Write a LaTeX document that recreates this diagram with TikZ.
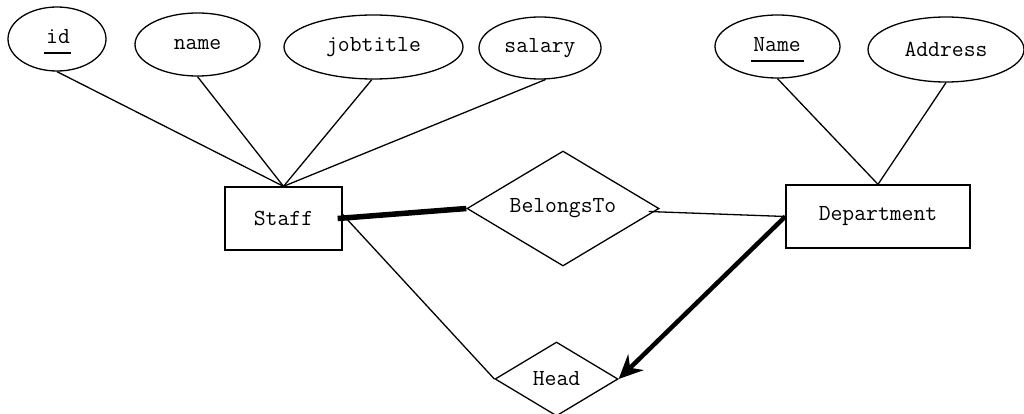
\documentclass[tikz,border=0pt]{standalone}
\usetikzlibrary{shapes.geometric,arrows.meta,calc}
\begin{document}
\begin{tikzpicture}[x=1pt,y=-1pt,
  attr/.style={draw,ellipse,line width=1.3pt,inner sep=0pt},
  entity/.style={draw,rectangle,line width=1.3pt,inner sep=0pt},
  rel/.style={draw,diamond,aspect=1.67,line width=1.3pt,inner sep=0pt},
  conn/.style={line width=1.3pt},
  total/.style={line width=5.5pt},
  every node/.style={font=\ttfamily\fontsize{23}{26}\selectfont}]
\useasboundingbox (0,0) rectangle (1024,414);
% attributes
\node[attr,minimum width=98pt,minimum height=64pt] (id) at (57,39) {};
\node at (58,37) (idt) {id};
\node[attr,minimum width=125pt,minimum height=63pt] (name) at (197.5,44.5) {name};
\node[attr,minimum width=179pt,minimum height=64pt] (job) at (373.5,47) {jobtitle};
\node[attr,minimum width=122pt,minimum height=62pt] (sal) at (540,48) {salary};
\node[attr,minimum width=125pt,minimum height=63pt] (dname) at (777.5,46.5) {};
\node at (777,45) (dnamet) {Name};
\node[attr,minimum width=156pt,minimum height=65pt] (addr) at (946,49.5) {Address};
% underlines
\draw[conn] ($(idt.center)+(-14,16)$) -- ++(27,0);
\draw[conn] ($(dnamet.center)+(-26,16)$) -- ++(53,0);
% entities
\node[entity,minimum width=117pt,minimum height=63pt] (staff) at (283.5,218.5) {Staff};
\node[entity,minimum width=184pt,minimum height=63pt] (dept) at (878,216.5) {Department};
% relationships
\node[rel,minimum width=192pt,minimum height=115pt] (bel) at (563,208.5) {BelongsTo};
\node[rel,minimum width=123pt,minimum height=74pt] (head) at (556.5,379) {Head};
% connectors
\draw[conn] (id.south) -- (staff.north);
\draw[conn] (name.south) -- (staff.north);
\draw[conn] (job.-93) -- (staff.north);
\draw[conn] (sal.-80) -- (staff.north);
\draw[conn] (dname.south) -- (dept.north);
\draw[conn] (addr.south) -- (dept.north);
\draw[total] ([xshift=-5pt]staff.east) -- (bel.west);
\draw[conn] ([xshift=-11pt,yshift=-3pt]bel.east) -- (dept.west);
\draw[conn] ([yshift=4pt]staff.east) -- (head.west);
\draw[line width=4.5pt,-{Stealth[length=24pt,width=22pt,inset=8pt]}] (dept.west) -- (head.east);
\end{tikzpicture}
\end{document}
